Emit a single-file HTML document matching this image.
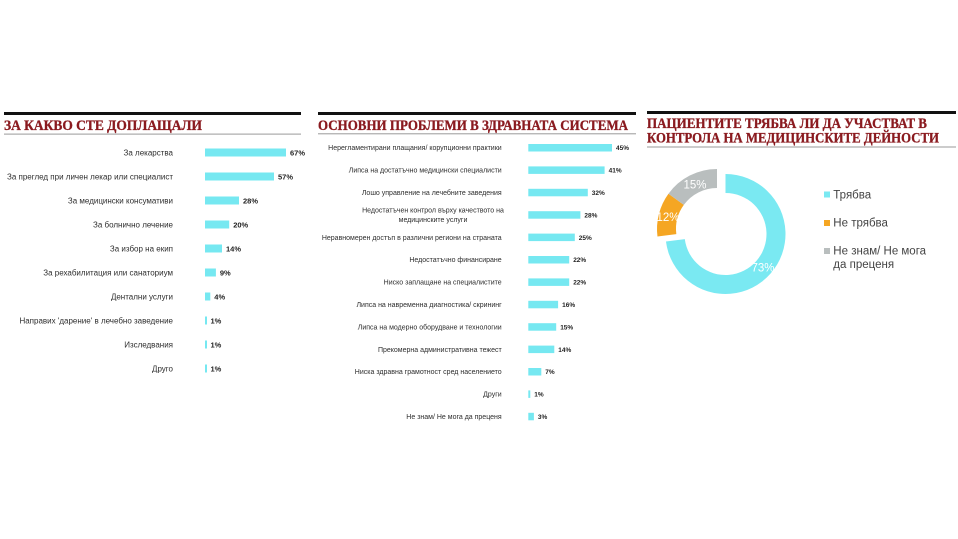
<!DOCTYPE html>
<html><head><meta charset="utf-8"><style>
html,body{margin:0;padding:0;background:#fff;}
svg{display:block;}
.lb{font-family:"Liberation Sans","DejaVu Sans",sans-serif;fill:#2e2e2e;}
.vl{font-family:"Liberation Sans","DejaVu Sans",sans-serif;fill:#222;font-weight:bold;}
.tt{font-family:"Liberation Serif","DejaVu Serif",serif;font-weight:bold;fill:#8a1a1f;stroke:#8a1a1f;stroke-width:0.35;font-size:15px;}
</style></head><body>
<svg width="958" height="539" viewBox="0 0 958 539" xmlns="http://www.w3.org/2000/svg">
<rect width="958" height="539" fill="#fff"/>
<!-- Left panel -->
<rect x="4" y="112" width="297" height="3" fill="#111"/>
<text class="tt" x="4" y="129.8" textLength="198" lengthAdjust="spacingAndGlyphs">ЗА КАКВО СТЕ ДОПЛАЩАЛИ</text>
<rect x="4" y="133.6" width="297" height="1" fill="#9a9a9a"/>
<g font-size="8">
<text class="lb" x="173" y="155.5" text-anchor="end">За лекарства</text>
<text class="lb" x="173" y="179.5" text-anchor="end">За преглед при личен лекар или специалист</text>
<text class="lb" x="173" y="203.5" text-anchor="end">За медицински консумативи</text>
<text class="lb" x="173" y="227.5" text-anchor="end">За болнично лечение</text>
<text class="lb" x="173" y="251.5" text-anchor="end">За избор на екип</text>
<text class="lb" x="173" y="275.5" text-anchor="end">За рехабилитация или санаториум</text>
<text class="lb" x="173" y="299.5" text-anchor="end">Дентални услуги</text>
<text class="lb" x="173" y="323.5" text-anchor="end">Направих 'дарение' в лечебно заведение</text>
<text class="lb" x="173" y="347.5" text-anchor="end">Изследвания</text>
<text class="lb" x="173" y="371.5" text-anchor="end">Друго</text>
</g>
<g fill="#76e8f1">
<rect x="205" y="148.5" width="81" height="8"/>
<rect x="205" y="172.5" width="69" height="8"/>
<rect x="205" y="196.5" width="34" height="8"/>
<rect x="205" y="220.5" width="24.2" height="8"/>
<rect x="205" y="244.5" width="17" height="8"/>
<rect x="205" y="268.5" width="10.9" height="8"/>
<rect x="205" y="292.5" width="5.3" height="8"/>
<rect x="205" y="316.5" width="2" height="8"/>
<rect x="205" y="340.5" width="2" height="8"/>
<rect x="205" y="364.5" width="2" height="8"/>
</g>
<g font-size="7.5">
<text class="vl" x="290" y="155.5">67%</text>
<text class="vl" x="278" y="179.5">57%</text>
<text class="vl" x="243" y="203.5">28%</text>
<text class="vl" x="233.2" y="227.5">20%</text>
<text class="vl" x="226" y="251.5">14%</text>
<text class="vl" x="219.9" y="275.5">9%</text>
<text class="vl" x="214.3" y="299.5">4%</text>
<text class="vl" x="210.5" y="323.5">1%</text>
<text class="vl" x="210.5" y="347.5">1%</text>
<text class="vl" x="210.5" y="371.5">1%</text>
</g>

<!-- Middle panel -->
<rect x="318" y="112" width="318" height="3" fill="#111"/>
<text class="tt" x="318" y="130.2" textLength="310" lengthAdjust="spacingAndGlyphs">ОСНОВНИ ПРОБЛЕМИ В ЗДРАВНАТА СИСТЕМА</text>
<rect x="318" y="133.3" width="318" height="1" fill="#9a9a9a"/>
<g font-size="7">
<text class="lb" x="501.7" y="150.2" text-anchor="end">Нерегламентирани плащания/ корупционни практики</text>
<text class="lb" x="501.7" y="172.6" text-anchor="end">Липса на достатъчно медицински специалисти</text>
<text class="lb" x="501.7" y="195" text-anchor="end">Лошо управление на лечебните заведения</text>
<text class="lb" x="433" y="212.5" text-anchor="middle">Недостатъчен контрол върху качеството на</text>
<text class="lb" x="433" y="221.8" text-anchor="middle">медицинските услуги</text>
<text class="lb" x="501.7" y="239.8" text-anchor="end">Неравномерен достъп в различни региони на страната</text>
<text class="lb" x="501.7" y="262.2" text-anchor="end">Недостатъчно финансиране</text>
<text class="lb" x="501.7" y="284.6" text-anchor="end">Ниско заплащане на специалистите</text>
<text class="lb" x="501.7" y="307" text-anchor="end">Липса на навременна диагностика/ скрининг</text>
<text class="lb" x="501.7" y="329.4" text-anchor="end">Липса на модерно оборудване и технологии</text>
<text class="lb" x="501.7" y="351.8" text-anchor="end">Прекомерна административна тежест</text>
<text class="lb" x="501.7" y="374.2" text-anchor="end">Ниска здравна грамотност сред населението</text>
<text class="lb" x="501.7" y="396.6" text-anchor="end">Други</text>
<text class="lb" x="501.7" y="419" text-anchor="end">Не знам/ Не мога да преценя</text>
</g>
<g fill="#76e8f1">
<rect x="528.3" y="144" width="83.7" height="7.5"/>
<rect x="528.3" y="166.4" width="76.3" height="7.5"/>
<rect x="528.3" y="188.8" width="59.5" height="7.5"/>
<rect x="528.3" y="211.2" width="52.1" height="7.5"/>
<rect x="528.3" y="233.6" width="46.5" height="7.5"/>
<rect x="528.3" y="256" width="40.9" height="7.5"/>
<rect x="528.3" y="278.4" width="40.9" height="7.5"/>
<rect x="528.3" y="300.8" width="29.8" height="7.5"/>
<rect x="528.3" y="323.2" width="27.9" height="7.5"/>
<rect x="528.3" y="345.6" width="26" height="7.5"/>
<rect x="528.3" y="368" width="13" height="7.5"/>
<rect x="528.3" y="390.4" width="2" height="7.5"/>
<rect x="528.3" y="412.8" width="5.6" height="7.5"/>
</g>
<g font-size="6.5">
<text class="vl" x="616" y="150.2">45%</text>
<text class="vl" x="608.6" y="172.6">41%</text>
<text class="vl" x="591.8" y="195">32%</text>
<text class="vl" x="584.4" y="217.4">28%</text>
<text class="vl" x="578.8" y="239.8">25%</text>
<text class="vl" x="573.2" y="262.2">22%</text>
<text class="vl" x="573.2" y="284.6">22%</text>
<text class="vl" x="562.1" y="307">16%</text>
<text class="vl" x="560.2" y="329.4">15%</text>
<text class="vl" x="558.3" y="351.8">14%</text>
<text class="vl" x="545.3" y="374.2">7%</text>
<text class="vl" x="534.3" y="396.6">1%</text>
<text class="vl" x="537.9" y="419">3%</text>
</g>

<!-- Right panel -->
<rect x="647" y="111" width="309" height="3" fill="#111"/>
<text class="tt" x="647" y="127.8" textLength="280" lengthAdjust="spacingAndGlyphs">ПАЦИЕНТИТЕ ТРЯБВА ЛИ ДА УЧАСТВАТ В</text>
<text class="tt" x="647" y="142.3" textLength="292" lengthAdjust="spacingAndGlyphs">КОНТРОЛА НА МЕДИЦИНСКИТЕ ДЕЙНОСТИ</text>
<rect x="647" y="146.5" width="309" height="1" fill="#9a9a9a"/>

<path d="M725.5,174 A60,60 0 1 1 665.97,241.52 L684.82,239.14 A41,41 0 1 0 725.5,193 Z" fill="#7ae9f2"/>
<path d="M657.47,236.52 A60,60 0 0 1 668.46,193.73 L683.83,204.90 A41,41 0 0 0 676.32,234.14 Z" fill="#f5a623"/>
<path d="M668.46,193.73 A60,60 0 0 1 717,169 L717,188 A41,41 0 0 0 683.83,204.90 Z" fill="#b9bebe"/>
<g font-family="Liberation Sans, sans-serif" font-size="11.5" fill="#fff" text-anchor="middle">
<text x="763" y="271.5">73%</text>
<text x="668" y="221">12%</text>
<text x="695" y="188.5">15%</text>
</g>

<rect x="824" y="191.5" width="6" height="6" fill="#7ae9f2"/>
<rect x="824" y="220" width="6" height="6" fill="#f5a623"/>
<rect x="824" y="248" width="6" height="6" fill="#b9bebe"/>
<g font-family="Liberation Sans, sans-serif" font-size="11.5" fill="#444">
<text x="833.3" y="198.3">Трябва</text>
<text x="833.3" y="226.7">Не трябва</text>
<text x="833.3" y="254.5">Не знам/ Не мога</text>
<text x="833.3" y="268">да преценя</text>
</g>
</svg>
</body></html>
